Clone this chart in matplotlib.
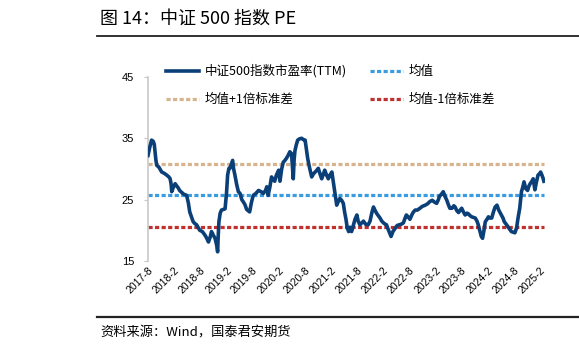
import pandas as pd
import matplotlib
matplotlib.use("Agg")
import matplotlib.pyplot as plt

plt.rcParams['font.family'] = ['Noto Sans CJK SC', 'DejaVu Sans']

# 中证500指数市盈率(TTM)
dates = [
    "2017-08-01", "2017-08-13", "2017-08-26", "2017-09-07", "2017-09-14", "2017-09-25",
    "2017-10-01", "2017-10-16", "2017-11-05", "2017-11-22", "2017-12-10", "2017-12-25",
    "2018-01-03", "2018-01-10", "2018-01-14", "2018-01-25", "2018-02-07", "2018-02-19",
    "2018-03-01", "2018-03-10", "2018-03-19", "2018-04-07", "2018-04-28", "2018-05-10",
    "2018-05-20", "2018-06-01", "2018-06-13", "2018-06-25", "2018-07-07", "2018-07-19",
    "2018-07-29", "2018-08-16", "2018-09-04", "2018-09-16", "2018-09-28", "2018-10-10",
    "2018-10-19", "2018-11-01", "2018-11-13", "2018-11-25", "2018-12-01", "2018-12-05",
    "2018-12-10", "2018-12-19", "2018-12-28", "2019-01-10", "2019-01-22", "2019-02-01",
    "2019-02-09", "2019-02-18", "2019-02-25", "2019-03-07", "2019-03-16", "2019-03-23",
    "2019-04-01", "2019-04-13", "2019-04-25", "2019-05-07", "2019-05-19", "2019-05-28",
    "2019-06-10", "2019-06-22", "2019-07-13", "2019-07-25", "2019-08-07", "2019-08-25",
    "2019-09-13", "2019-10-01", "2019-10-16", "2019-11-01", "2019-11-10", "2019-11-19",
    "2019-12-01", "2019-12-13", "2019-12-25", "2020-01-04", "2020-01-16", "2020-02-01",
    "2020-02-10", "2020-02-22", "2020-03-04", "2020-03-16", "2020-03-25", "2020-04-07",
    "2020-04-19", "2020-05-01", "2020-05-13", "2020-05-19", "2020-05-25", "2020-06-04",
    "2020-06-13", "2020-06-25", "2020-07-10", "2020-07-22", "2020-08-04", "2020-08-13",
    "2020-08-22", "2020-09-04", "2020-09-19", "2020-10-01", "2020-10-13", "2020-10-25",
    "2020-11-04", "2020-11-16", "2020-11-28", "2020-12-07", "2020-12-19", "2021-01-01",
    "2021-01-13", "2021-01-25", "2021-02-07", "2021-02-15", "2021-02-23", "2021-03-04",
    "2021-03-13", "2021-03-22", "2021-04-04", "2021-04-16", "2021-04-28", "2021-05-07",
    "2021-05-16", "2021-05-25", "2021-06-04", "2021-06-13", "2021-06-25", "2021-07-07",
    "2021-07-19", "2021-08-01", "2021-08-10", "2021-08-22", "2021-09-04", "2021-09-16",
    "2021-10-01", "2021-10-19", "2021-11-01", "2021-11-13", "2021-11-25", "2021-12-07",
    "2021-12-19", "2022-01-01", "2022-01-10", "2022-01-22", "2022-02-04", "2022-02-15",
    "2022-02-24", "2022-03-07", "2022-03-19", "2022-03-28", "2022-04-10", "2022-04-25",
    "2022-05-10", "2022-05-25", "2022-06-07", "2022-06-22", "2022-07-01", "2022-07-13",
    "2022-07-25", "2022-08-07", "2022-08-22", "2022-09-01", "2022-09-13", "2022-09-28",
    "2022-10-16", "2022-11-01", "2022-11-22", "2022-12-07", "2022-12-25", "2023-01-10",
    "2023-01-25", "2023-02-10", "2023-02-22", "2023-03-01", "2023-03-16", "2023-03-28",
    "2023-04-10", "2023-04-22", "2023-05-01", "2023-05-13", "2023-05-28", "2023-06-10",
    "2023-06-19", "2023-07-01", "2023-07-13", "2023-07-25", "2023-08-04", "2023-08-16",
    "2023-08-28", "2023-09-10", "2023-09-19", "2023-10-01", "2023-10-13", "2023-10-25",
    "2023-11-07", "2023-11-19", "2023-11-28", "2023-12-10", "2023-12-19", "2023-12-28",
    "2024-01-07", "2024-01-16", "2024-01-28", "2024-02-07", "2024-02-18", "2024-03-01",
    "2024-03-13", "2024-03-25", "2024-04-07", "2024-04-19", "2024-05-07", "2024-05-19",
    "2024-05-28", "2024-06-10", "2024-06-22", "2024-07-04", "2024-07-16", "2024-07-28",
    "2024-08-10", "2024-08-22", "2024-09-01", "2024-09-13", "2024-09-25", "2024-10-04",
    "2024-10-13", "2024-10-25", "2024-11-07", "2024-11-16", "2024-11-25", "2024-12-07",
    "2024-12-16", "2024-12-28", "2025-01-07", "2025-01-19", "2025-02-01", "2025-02-06",
    "2025-02-15", "2025-02-23", "2025-03-01",
]
pe_ttm = [
    32.2, 33.5, 34.7, 34.5, 34.0, 31.5,
    30.6, 30.3, 29.5, 29.3, 29.0, 28.7,
    28.4, 27.5, 26.3, 27.0, 27.6, 27.2,
    26.9, 26.5, 26.3, 25.9, 25.7, 24.5,
    23.0, 22.2, 21.4, 21.1, 20.9, 20.4,
    20.0, 19.8, 19.2, 18.7, 18.1, 18.9,
    19.8, 19.2, 18.7, 17.5, 16.5, 19.0,
    21.4, 22.8, 23.3, 23.4, 23.5, 26.0,
    29.0, 30.1, 30.1, 30.8, 31.4, 30.0,
    29.0, 27.5, 26.3, 26.0, 25.0, 24.7,
    24.2, 23.4, 23.0, 24.5, 25.7, 26.0,
    26.5, 26.3, 26.0, 26.5, 27.1, 25.7,
    27.0, 28.7, 28.3, 28.0, 29.0, 29.8,
    28.0, 30.0, 31.1, 31.4, 31.7, 32.2,
    32.8, 32.5, 28.4, 31.5, 33.0, 34.0,
    34.7, 34.9, 35.0, 34.8, 34.7, 33.2,
    31.7, 30.2, 28.7, 29.2, 29.5, 29.8,
    30.1, 29.2, 28.4, 29.0, 29.8, 29.0,
    28.4, 29.0, 29.5, 28.2, 26.8, 25.5,
    24.1, 24.6, 25.2, 24.9, 24.4, 23.0,
    21.9, 20.5, 19.8, 20.5, 19.8, 20.8,
    21.8, 22.5, 21.5, 20.9, 21.2, 21.5,
    21.0, 20.9, 21.5, 22.8, 23.8, 23.2,
    22.7, 22.3, 22.0, 21.5, 21.2, 21.0,
    20.9, 20.2, 19.5, 19.0, 19.8, 20.3,
    20.8, 20.9, 21.0, 21.2, 21.8, 22.5,
    22.2, 21.8, 22.6, 23.0, 23.3, 23.3,
    23.6, 23.9, 24.1, 24.3, 24.7, 24.9,
    24.6, 24.4, 25.0, 25.5, 25.9, 26.3,
    25.5, 24.9, 24.3, 23.6, 23.6, 24.0,
    23.8, 23.2, 22.9, 23.3, 23.6, 23.0,
    22.5, 22.8, 22.7, 22.4, 22.2, 22.1,
    22.0, 21.5, 20.9, 19.8, 19.0, 18.7,
    20.0, 21.4, 21.8, 22.2, 22.0, 22.0,
    23.0, 23.8, 24.1, 23.3, 22.5, 22.0,
    21.4, 21.0, 20.6, 20.2, 19.8, 19.7,
    19.6, 20.4, 22.0, 23.6, 26.3, 27.0,
    27.9, 26.8, 26.5, 27.2, 27.6, 28.0,
    28.4, 26.6, 27.8, 29.0, 29.3, 29.5,
    29.0, 28.5, 28.0,
]
mean_pe = 25.7
std_pe = 5.1

tick_dates = pd.date_range("2017-08-01", "2025-02-01", freq="6MS")
tick_labels = [f"{d.year}-{d.month}" for d in tick_dates]

x = pd.to_datetime(dates)

fig = plt.figure(figsize=(5.79, 3.54), dpi=100)
ax = fig.add_axes([0.2556, 0.2627, 0.686, 0.52])

dash = (0, (1.3, 0.75))
ax.plot(x, [mean_pe + std_pe] * len(x), color='#D7B48E', lw=2.3, ls=dash, label='均值+1倍标准差')
ax.plot(x, [mean_pe] * len(x), color='#3A9CE0', lw=2.3, ls=dash, label='均值')
ax.plot(x, [mean_pe - std_pe] * len(x), color='#C0302C', lw=2.3, ls=dash, label='均值-1倍标准差')
ax.plot(x, pe_ttm, color='#0B3F77', lw=2.6, label='中证500指数市盈率(TTM)', zorder=5)

ax.set_ylim(15, 45)
ax.set_yticks([15, 25, 35, 45])
ax.set_xlim(pd.Timestamp("2017-08-01"), pd.Timestamp("2025-03-10"))
ax.set_xticks(tick_dates)
ax.set_xticklabels(tick_labels, rotation=45, ha='right', rotation_mode='anchor',
                   family=['Liberation Sans', 'DejaVu Sans'], fontsize=7.5)
for lbl in ax.get_yticklabels():
    lbl.set_family(['Liberation Sans', 'DejaVu Sans'])
    lbl.set_fontsize(8)
ax.tick_params(axis='x', length=0, pad=3)
ax.tick_params(axis='y', length=3, color='#C8C8C8', pad=7)

for s in ['top', 'right', 'bottom']:
    ax.spines[s].set_visible(False)
ax.spines['left'].set_color('#C8C8C8')
ax.spines['left'].set_linewidth(1.2)

handles, labels = ax.get_legend_handles_labels()
order = [3, 0, 1, 2]
ax.legend([handles[i] for i in order], [labels[i] for i in order], ncol=2,
          loc='upper left', bbox_to_anchor=(0.286, 0.818), bbox_transform=fig.transFigure,
          frameon=False, fontsize=9, handlelength=2.7, columnspacing=1.8,
          labelspacing=1.2, handletextpad=0.45, borderpad=0, borderaxespad=0)

# title, rules and source note
fig.text(0.173, 0.948, '图 14：中证 500 指数 PE', fontsize=13, va='center', ha='left')
fig.add_artist(plt.Line2D([0.168, 1.0], [0.899, 0.899], color='#222222', lw=1.3))
fig.add_artist(plt.Line2D([0.168, 1.0], [0.104, 0.104], color='#222222', lw=1.6))
fig.text(0.173, 0.058, '资料来源：Wind，国泰君安期货', fontsize=9.5, va='center', ha='left')

fig.savefig('out.png', dpi=100)
